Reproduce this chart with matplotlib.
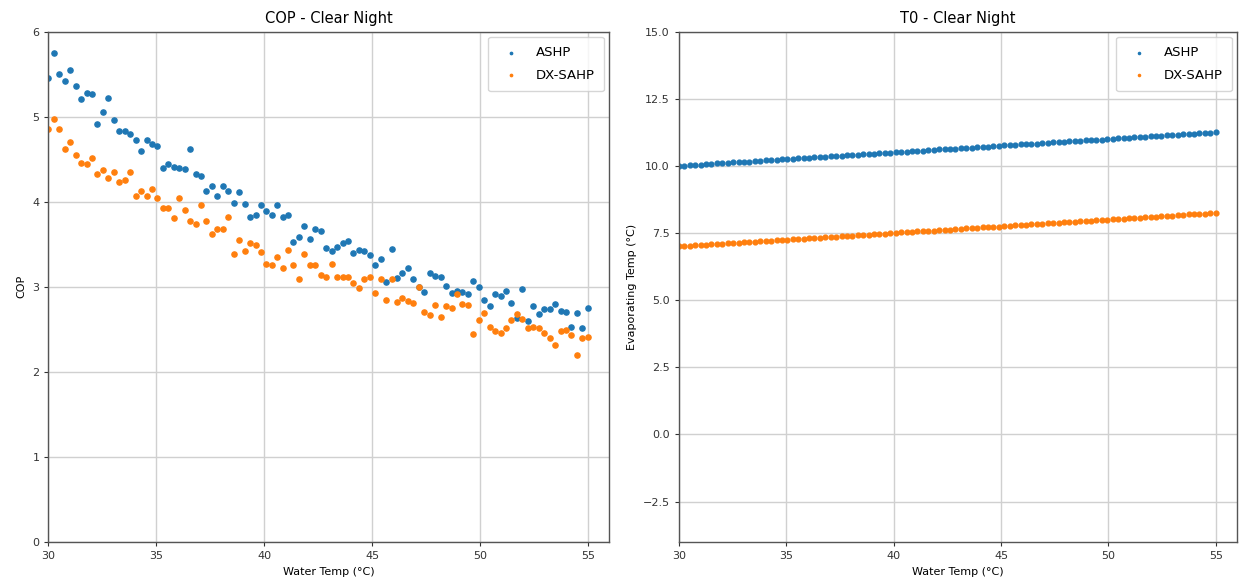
import numpy as np
import matplotlib
matplotlib.use("Agg")
import matplotlib.pyplot as plt

# water temperature sweep (100 points, 30 -> 55 degC)
water_temp = [
    30.00, 30.25, 30.51, 30.76, 31.01, 31.26, 31.52, 31.77, 32.02, 32.27,
    32.53, 32.78, 33.03, 33.28, 33.54, 33.79, 34.04, 34.29, 34.55, 34.80,
    35.05, 35.30, 35.56, 35.81, 36.06, 36.31, 36.57, 36.82, 37.07, 37.32,
    37.58, 37.83, 38.08, 38.33, 38.59, 38.84, 39.09, 39.34, 39.60, 39.85,
    40.10, 40.35, 40.61, 40.86, 41.11, 41.36, 41.62, 41.87, 42.12, 42.37,
    42.63, 42.88, 43.13, 43.38, 43.64, 43.89, 44.14, 44.39, 44.65, 44.90,
    45.15, 45.40, 45.66, 45.91, 46.16, 46.41, 46.67, 46.92, 47.17, 47.42,
    47.68, 47.93, 48.18, 48.43, 48.69, 48.94, 49.19, 49.44, 49.70, 49.95,
    50.20, 50.45, 50.71, 50.96, 51.21, 51.46, 51.72, 51.97, 52.22, 52.47,
    52.73, 52.98, 53.23, 53.48, 53.74, 53.99, 54.24, 54.49, 54.75, 55.00,
]

cop_ashp = [
    5.45, 5.75, 5.50, 5.42, 5.55, 5.36, 5.21, 5.28, 5.27, 4.91,
    5.05, 5.22, 4.96, 4.83, 4.83, 4.79, 4.73, 4.60, 4.73, 4.68,
    4.65, 4.40, 4.44, 4.41, 4.39, 4.38, 4.62, 4.33, 4.30, 4.13,
    4.18, 4.07, 4.18, 4.13, 3.98, 4.11, 3.97, 3.82, 3.84, 3.96,
    3.89, 3.84, 3.96, 3.82, 3.84, 3.53, 3.59, 3.71, 3.56, 3.68,
    3.65, 3.45, 3.42, 3.47, 3.52, 3.54, 3.40, 3.43, 3.42, 3.37,
    3.25, 3.33, 3.05, 3.44, 3.10, 3.16, 3.22, 3.09, 3.00, 2.94,
    3.16, 3.13, 3.11, 3.01, 2.93, 2.95, 2.94, 2.91, 3.07, 3.00,
    2.84, 2.77, 2.92, 2.89, 2.95, 2.81, 2.63, 2.97, 2.60, 2.77,
    2.68, 2.74, 2.74, 2.80, 2.71, 2.70, 2.53, 2.69, 2.52, 2.75,
]

cop_dxsahp = [
    4.85, 4.97, 4.85, 4.62, 4.70, 4.55, 4.45, 4.44, 4.51, 4.33,
    4.37, 4.28, 4.35, 4.23, 4.25, 4.35, 4.07, 4.12, 4.07, 4.15,
    4.04, 3.93, 3.93, 3.81, 4.04, 3.90, 3.77, 3.74, 3.96, 3.77,
    3.62, 3.68, 3.68, 3.82, 3.38, 3.55, 3.42, 3.52, 3.49, 3.41,
    3.27, 3.25, 3.35, 3.22, 3.43, 3.25, 3.09, 3.38, 3.25, 3.25,
    3.14, 3.11, 3.27, 3.11, 3.12, 3.12, 3.04, 2.99, 3.09, 3.11,
    2.93, 3.09, 2.85, 3.09, 2.82, 2.87, 2.83, 2.81, 3.00, 2.70,
    2.67, 2.79, 2.65, 2.77, 2.75, 2.91, 2.80, 2.78, 2.44, 2.61,
    2.69, 2.53, 2.48, 2.46, 2.52, 2.61, 2.68, 2.62, 2.52, 2.53,
    2.52, 2.46, 2.40, 2.31, 2.48, 2.49, 2.43, 2.20, 2.40, 2.41,
]

t0_ashp = [
    10.00, 10.01, 10.03, 10.04, 10.05, 10.06, 10.08, 10.09, 10.10, 10.11,
    10.13, 10.14, 10.15, 10.16, 10.18, 10.19, 10.20, 10.21, 10.23, 10.24,
    10.25, 10.27, 10.28, 10.29, 10.30, 10.32, 10.33, 10.34, 10.35, 10.37,
    10.38, 10.39, 10.40, 10.42, 10.43, 10.44, 10.45, 10.47, 10.48, 10.49,
    10.51, 10.52, 10.53, 10.54, 10.56, 10.57, 10.58, 10.59, 10.61, 10.62,
    10.63, 10.64, 10.66, 10.67, 10.68, 10.69, 10.71, 10.72, 10.73, 10.74,
    10.76, 10.77, 10.78, 10.80, 10.81, 10.82, 10.83, 10.85, 10.86, 10.87,
    10.88, 10.90, 10.91, 10.92, 10.93, 10.95, 10.96, 10.97, 10.98, 11.00,
    11.01, 11.02, 11.04, 11.05, 11.06, 11.07, 11.09, 11.10, 11.11, 11.12,
    11.14, 11.15, 11.16, 11.17, 11.19, 11.20, 11.21, 11.22, 11.24, 11.25,
]

t0_dxsahp = [
    7.00, 7.01, 7.03, 7.04, 7.05, 7.06, 7.08, 7.09, 7.10, 7.11,
    7.13, 7.14, 7.15, 7.16, 7.18, 7.19, 7.20, 7.21, 7.23, 7.24,
    7.25, 7.27, 7.28, 7.29, 7.30, 7.32, 7.33, 7.34, 7.35, 7.37,
    7.38, 7.39, 7.40, 7.42, 7.43, 7.44, 7.45, 7.47, 7.48, 7.49,
    7.51, 7.52, 7.53, 7.54, 7.56, 7.57, 7.58, 7.59, 7.61, 7.62,
    7.63, 7.64, 7.66, 7.67, 7.68, 7.69, 7.71, 7.72, 7.73, 7.74,
    7.76, 7.77, 7.78, 7.80, 7.81, 7.82, 7.83, 7.85, 7.86, 7.87,
    7.88, 7.90, 7.91, 7.92, 7.93, 7.95, 7.96, 7.97, 7.98, 8.00,
    8.01, 8.02, 8.04, 8.05, 8.06, 8.07, 8.09, 8.10, 8.11, 8.12,
    8.14, 8.15, 8.16, 8.17, 8.19, 8.20, 8.21, 8.22, 8.24, 8.25,
]

series_names = ["ASHP", "DX-SAHP"]
blue, orange = "#1f77b4", "#ff7f0e"

fig = plt.figure(figsize=(12.41, 5.84), dpi=100)
ax1 = fig.add_axes([0.039, 0.072, 0.452, 0.874])
ax2 = fig.add_axes([0.547, 0.072, 0.450, 0.874])

def style(ax):
    ax.grid(True, color="#d0d0d0", linewidth=1.0)
    ax.set_axisbelow(True)
    for s in ax.spines.values():
        s.set_color("#555555")
        s.set_linewidth(1.0)
    ax.tick_params(labelsize=8, colors="#333333", length=3)
    ax.legend(loc="upper right", fontsize=9.5, markerscale=0.45,
              handletextpad=0.9, borderpad=0.7, labelspacing=0.75,
              borderaxespad=0.4)

# COP panel
ax1.scatter(water_temp, cop_ashp, s=14, color=blue, label=series_names[0])
ax1.scatter(water_temp, cop_dxsahp, s=14, color=orange, label=series_names[1])
ax1.set_xlim(30, 56)
ax1.set_ylim(0, 6)
ax1.set_title("COP - Clear Night", fontsize=10.5)
ax1.set_xlabel("Water Temp (°C)", fontsize=8)
ax1.set_ylabel("COP", fontsize=8)
style(ax1)

# evaporating temperature panel
ax2.scatter(water_temp, t0_ashp, s=12, color=blue, label=series_names[0])
ax2.scatter(water_temp, t0_dxsahp, s=12, color=orange, label=series_names[1])
ax2.set_xlim(30, 56)
ax2.set_ylim(-4, 15)
ax2.set_yticks(np.arange(-2.5, 15.1, 2.5))
ax2.set_title("T0 - Clear Night", fontsize=10.5)
ax2.set_xlabel("Water Temp (°C)", fontsize=8)
ax2.set_ylabel("Evaporating Temp (°C)", fontsize=8)
style(ax2)

fig.savefig("out.png", dpi=100)
